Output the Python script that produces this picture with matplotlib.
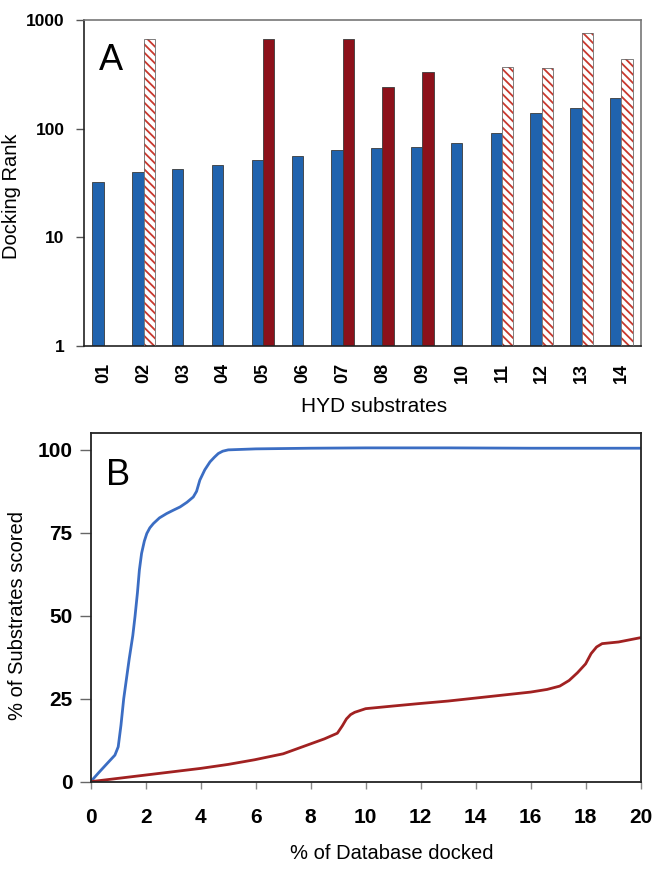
import numpy as np
import matplotlib
matplotlib.use("Agg")
import matplotlib.pyplot as plt

plt.rcParams['font.family'] = ['Liberation Sans', 'DejaVu Sans']
plt.rcParams['hatch.linewidth'] = 1.3

# ---------------- Data ----------------
substrates = ['01', '02', '03', '04', '05', '06', '07', '08', '09', '10', '11', '12', '13', '14']
rank_blue = [32, 40, 43, 46, 52, 56.5, 63, 66, 68, 74, 91, 138, 156, 191]
rank_red_solid = [np.nan, np.nan, np.nan, np.nan, 664, np.nan, 664, 240, 335, np.nan, np.nan, np.nan, np.nan, np.nan]
rank_red_hatched = [np.nan, 664, np.nan, np.nan, np.nan, np.nan, np.nan, np.nan, np.nan, np.nan, 367, 364, 764, 441]

blue_x = [0, 0.3, 0.6, 0.88, 1.0, 1.1, 1.2, 1.3, 1.4, 1.53, 1.61, 1.7, 1.77, 1.85, 1.95, 2.04,
          2.15, 2.28, 2.5, 2.76, 3.0, 3.25, 3.5, 3.73, 3.85, 3.97, 4.15, 4.34, 4.5, 4.64, 4.8,
          5.0, 6.0, 8.0, 10.0, 13.0, 16.0, 20.0]
blue_y = [0, 2.8, 5.5, 8.0, 10.5, 17, 25, 31, 37, 44, 49.7, 57, 63.8, 68.8, 72.5, 74.8,
          76.5, 77.8, 79.5, 80.8, 81.8, 82.8, 84.2, 85.8, 87.5, 90.9, 94, 96.4, 97.8, 98.9, 99.6,
          100.0, 100.3, 100.5, 100.6, 100.6, 100.5, 100.5]

red_x = [0, 1.0, 2.0, 3.0, 4.0, 5.0, 5.96, 7.0, 8.0, 8.5, 8.97, 9.15, 9.3, 9.45, 9.6, 10.0,
         11.0, 11.9, 13.0, 14.0, 15.0, 16.0, 16.6, 17.06, 17.4, 17.7, 18.0, 18.2, 18.4, 18.6,
         19.2, 20.0]
red_y = [0, 1.0, 2.0, 3.0, 4.0, 5.2, 6.6, 8.4, 11.4, 12.9, 14.6, 16.8, 18.9, 20.2, 20.9, 22.0,
         22.8, 23.5, 24.3, 25.2, 26.1, 27.0, 27.8, 28.8, 30.5, 32.8, 35.5, 38.6, 40.6, 41.6,
         42.1, 43.4]

BLUE_BAR = '#2063AE'
RED_BAR = '#8C111A'
HATCH_RED = '#C8382E'
BLUE_LINE = '#3B6DC3'
RED_LINE = '#A12121'

fig = plt.figure(figsize=(6.55, 8.69), dpi=100)

# ---------------- Panel A ----------------
axA = fig.add_axes([0.128, 0.6018, 0.851, 0.3752])
x = np.arange(len(substrates))
w = 0.284
axA.bar(x - w / 2, rank_blue, width=w, color=BLUE_BAR, edgecolor='#3a3a3a', linewidth=0.6, zorder=2)
axA.bar(x + w / 2, rank_red_solid, width=w, color=RED_BAR, edgecolor='#3a3a3a', linewidth=0.6, zorder=2)
axA.bar(x + w / 2, rank_red_hatched, width=w, color='white', edgecolor=HATCH_RED, hatch='\\\\\\\\',
        linewidth=0, zorder=2)
axA.bar(x + w / 2, rank_red_hatched, width=w, color='none', edgecolor='#6a6a6a', linewidth=0.6, zorder=3)
axA.set_yscale('log')
axA.set_ylim(1, 1000)
axA.set_xlim(-0.5, len(substrates) - 0.5)
axA.set_yticks([1, 10, 100, 1000])
axA.set_yticklabels(['1', '10', '100', '1000'], fontsize=12.5, fontweight='bold')
axA.yaxis.set_minor_locator(matplotlib.ticker.NullLocator())
axA.set_xticks(x)
axA.set_xticklabels(substrates, rotation=90, fontsize=13, fontweight='bold')
axA.tick_params(axis='x', length=0, pad=12)
axA.tick_params(axis='y', length=6, width=1.0, color='#555555', pad=8, direction='out')
for s in ['left', 'bottom']:
    axA.spines[s].set_color('#222222')
    axA.spines[s].set_linewidth(1.2)
for s in ['top', 'right']:
    axA.spines[s].set_color('#777777')
    axA.spines[s].set_linewidth(1.2)
axA.set_ylabel('Docking Rank', fontsize=14.5)
axA.yaxis.set_label_coords(-0.113, 0.46)
axA.set_xlabel('HYD substrates', fontsize=15)
axA.xaxis.set_label_coords(0.52, -0.155)
axA.text(0.027, 0.93, 'A', transform=axA.transAxes, fontsize=26, va='top', ha='left')

# ---------------- Panel B ----------------
axB = fig.add_axes([0.1385, 0.1005, 0.8395, 0.4009])
axB.plot(blue_x, blue_y, color=BLUE_LINE, linewidth=2.0, solid_capstyle='round')
axB.plot(red_x, red_y, color=RED_LINE, linewidth=2.0, solid_capstyle='round')
axB.set_xlim(0, 20)
axB.set_ylim(0, 105)
axB.set_xticks(np.arange(0, 21, 2))
axB.set_xticklabels([str(v) for v in range(0, 21, 2)], fontsize=15, fontweight='bold')
axB.set_yticks([0, 25, 50, 75, 100])
axB.set_yticklabels(['0', '25', '50', '75', '100'], fontsize=15, fontweight='bold')
axB.tick_params(axis='x', length=5, width=1.0, color='#888888', pad=14, direction='out')
axB.tick_params(axis='y', length=8, width=1.0, color='#666666', pad=5, direction='out')
for s in axB.spines.values():
    s.set_color('#222222')
    s.set_linewidth(1.3)
axB.set_ylabel('% of Substrates scored', fontsize=14.5)
axB.yaxis.set_label_coords(-0.116, 0.478)
axB.set_xlabel('% of Database docked', fontsize=14.5)
axB.xaxis.set_label_coords(0.548, -0.18)
axB.text(0.028, 0.93, 'B', transform=axB.transAxes, fontsize=26, va='top', ha='left')

fig.savefig('out.png', dpi=100)
